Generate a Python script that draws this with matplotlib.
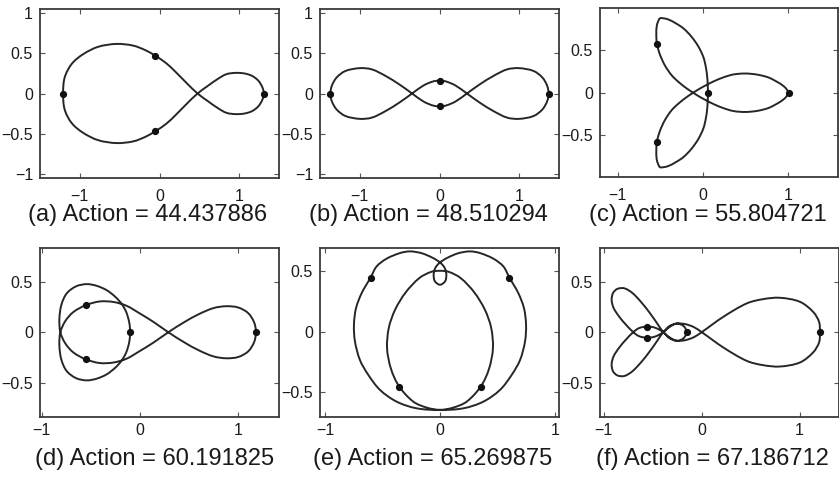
import numpy as np
import matplotlib
matplotlib.use("Agg")
import matplotlib.pyplot as plt
from matplotlib.path import Path
from matplotlib.patches import PathPatch

plt.rcParams["font.family"] = ["Liberation Sans", "DejaVu Sans"]

# ---------------------------------------------------------------------------
# Orbit data (half curves; the full orbits follow from their symmetries)
# ---------------------------------------------------------------------------
# (a) symmetric about the x-axis
a_half_x = [1.31, 1.29, 1.24, 1.16, 1.06, 0.95, 0.84, 0.73, 0.60, 0.478, 0.34, 0.20,
            0.08, -0.055, -0.17, -0.33, -0.54, -0.77, -0.956, -1.10, -1.19, -1.21]
a_half_y = [0.0, 0.08, 0.16, 0.22, 0.25, 0.256, 0.24, 0.18, 0.09, 0.0, -0.13, -0.27,
            -0.38, -0.47, -0.535, -0.595, -0.616, -0.58, -0.49, -0.37, -0.20, 0.0]
a_bodies_x = [-1.21, 1.31, -0.055, -0.055]
a_bodies_y = [0.0, 0.0, 0.47, -0.47]

# (b) symmetric about the x-axis
b_half_x = [-1.37, -1.35, -1.29, -1.18, -1.0, -0.85, -0.68, -0.5, -0.344, -0.2, -0.08, 0.0,
            0.08, 0.2, 0.344, 0.5, 0.68, 0.85, 1.0, 1.18, 1.29, 1.35, 1.37]
b_half_y = [0.0, 0.1, 0.2, 0.28, 0.315, 0.3, 0.22, 0.11, 0.0, -0.1, -0.15, -0.16,
            -0.15, -0.1, 0.0, 0.11, 0.22, 0.3, 0.315, 0.28, 0.2, 0.1, 0.0]
b_bodies_x = [-1.37, 1.37, 0.0, 0.0]
b_bodies_y = [0.0, 0.0, 0.16, -0.16]

# (c) three-fold symmetric; arc from the right tip to the centre of one strand
c_arc_x = [1.01, 0.99, 0.95, 0.87, 0.77, 0.64, 0.5, 0.36, 0.24, 0.13, 0.05, -0.03]
c_arc_y = [0.0, 0.035, 0.078, 0.13, 0.18, 0.213, 0.226, 0.215, 0.18, 0.135, 0.095, 0.052]
c_bodies_x = [1.01, 0.06, -0.541, -0.541]
c_bodies_y = [0.0, 0.0, 0.577, -0.577]

# (d) symmetric about the x-axis
d_half_x = [1.18, 1.16, 1.10, 1.00, 0.88, 0.75, 0.60, 0.45, 0.288, 0.136, 0.0, -0.136,
            -0.27, -0.41, -0.552, -0.678, -0.76, -0.81, -0.82, -0.80, -0.746, -0.65,
            -0.542, -0.44, -0.339, -0.25, -0.186, -0.14, -0.11, -0.10]
d_half_y = [0.0, 0.10, 0.19, 0.245, 0.258, 0.24, 0.18, 0.10, 0.0, -0.103, -0.185, -0.262,
            -0.30, -0.305, -0.268, -0.20, -0.11, 0.0, 0.13, 0.27, 0.384, 0.455,
            0.477, 0.46, 0.417, 0.35, 0.28, 0.20, 0.10, 0.0]
d_bodies_x = [1.18, -0.10, -0.552, -0.552]
d_bodies_y = [0.0, 0.0, 0.268, -0.268]

# (e) symmetric about the y-axis
e_half_x = [0.0, -0.045, -0.055, -0.04, 0.0, 0.07, 0.16, 0.26, 0.348, 0.464, 0.551, 0.603,
            0.681, 0.73, 0.748, 0.739, 0.696, 0.623, 0.522, 0.377, 0.203, 0.0, -0.116,
            -0.232, -0.354, -0.425, -0.46, -0.445, -0.39, -0.30, -0.18, -0.075, 0.0]
e_half_y = [0.385, 0.415, 0.47, 0.525, 0.569, 0.61, 0.645, 0.66, 0.646, 0.60, 0.536, 0.445,
            0.316, 0.192, 0.055, -0.082, -0.234, -0.357, -0.48, -0.577, -0.632, -0.645, -0.626,
            -0.577, -0.453, -0.31, -0.14, 0.03, 0.18, 0.32, 0.44, 0.492, 0.50]
e_bodies_x = [-0.603, 0.603, -0.354, 0.354]
e_bodies_y = [0.445, 0.445, -0.453, -0.453]

# (f) symmetric about the x-axis
f_half_x = [1.208, 1.20, 1.14, 1.004, 0.80, 0.63, 0.46, 0.221, 0.0, -0.08, -0.17, -0.26,
            -0.33, -0.392, -0.45, -0.53, -0.62, -0.71, -0.79, -0.86, -0.905, -0.92, -0.90,
            -0.84, -0.77, -0.699, -0.64, -0.562, -0.48, -0.392, -0.33, -0.25, -0.185, -0.153]
f_half_y = [0.0, 0.10, 0.20, 0.301, 0.341, 0.328, 0.285, 0.152, 0.0, -0.05, -0.08, -0.085,
            -0.05, 0.0, 0.08, 0.19, 0.30, 0.39, 0.435, 0.43, 0.39, 0.32, 0.24,
            0.15, 0.07, 0.0, -0.04, -0.055, -0.045, 0.0, 0.06, 0.085, 0.06, 0.0]
f_bodies_x = [1.208, -0.153, -0.562, -0.562]
f_bodies_y = [0.0, 0.0, 0.055, -0.055]

captions = ["(a) Action = 44.437886", "(b) Action = 48.510294", "(c) Action = 55.804721",
            "(d) Action = 60.191825", "(e) Action = 65.269875", "(f) Action = 67.186712"]


# ---------------------------------------------------------------------------
# Curve construction helpers
# ---------------------------------------------------------------------------
def join_mirror(hx, hy, flip_x=False):
    """Half curve followed by its mirror image traversed backwards."""
    hx = np.asarray(hx, float)
    hy = np.asarray(hy, float)
    mx, my = (-hx, hy) if flip_x else (hx, -hy)
    x = np.concatenate([hx, mx[::-1][1:-1]])
    y = np.concatenate([hy, my[::-1][1:-1]])
    return x, y


def rotate(x, y, deg):
    t = np.deg2rad(deg)
    return x * np.cos(t) - y * np.sin(t), x * np.sin(t) + y * np.cos(t)


def threefold(ax_, ay_):
    ax_ = np.asarray(ax_, float)
    ay_ = np.asarray(ay_, float)
    # reflect the arc across the line through the origin at 120 degrees
    c, s = np.cos(np.deg2rad(240)), np.sin(np.deg2rad(240))
    rx = c * ax_ + s * ay_
    ry = s * ax_ - c * ay_
    sx = np.concatenate([ax_, rx[::-1][1:]])
    sy = np.concatenate([ay_, ry[::-1][1:]])
    parts_x, parts_y = [sx[:-1]], [sy[:-1]]
    for deg in (240, 120):
        px, py = rotate(sx, sy, deg)
        parts_x.append(px[:-1])
        parts_y.append(py[:-1])
    return np.concatenate(parts_x), np.concatenate(parts_y)


def smooth_closed_path(x, y):
    P = np.column_stack([x, y])
    n = len(P)
    nxt = np.roll(P, -1, axis=0)
    prv = np.roll(P, 1, axis=0)
    d_next = np.linalg.norm(nxt - P, axis=1)
    d_prev = np.roll(d_next, 1)
    T = (nxt - prv) / (d_prev + d_next)[:, None]
    verts = [P[0]]
    codes = [Path.MOVETO]
    for i in range(n):
        j = (i + 1) % n
        h = d_next[i] / 3.0
        verts += [P[i] + T[i] * h, P[j] - T[j] * h, P[j]]
        codes += [Path.CURVE4] * 3
    return Path(verts, codes)


orbits = [
    join_mirror(a_half_x, a_half_y),
    join_mirror(b_half_x, b_half_y),
    threefold(c_arc_x, c_arc_y),
    join_mirror(d_half_x, d_half_y),
    join_mirror(e_half_x, e_half_y, flip_x=True),
    join_mirror(f_half_x, f_half_y),
]
bodies = [(a_bodies_x, a_bodies_y), (b_bodies_x, b_bodies_y), (c_bodies_x, c_bodies_y),
          (d_bodies_x, d_bodies_y), (e_bodies_x, e_bodies_y), (f_bodies_x, f_bodies_y)]

# axes boxes in pixels: left, top, right, bottom
W, H = 839, 479
boxes = [(40, 9, 279, 178), (320, 9, 559, 178), (600, 8.5, 838, 177),
         (40, 247.5, 279, 417), (320, 247.5, 559.3, 417.3), (600, 247.5, 838.7, 417.3)]
xlims = [(-1.5, 1.5), (-1.5, 1.5), (-1.21, 1.59), (-1.017, 1.414), (-1.043, 1.037), (-1.039, 1.40)]
ylims = [(-1.05, 1.05), (-1.05, 1.05), (-0.99, 0.99), (-0.84, 0.84), (-0.706, 0.692), (-0.845, 0.84)]
yticks = [[-1, -0.5, 0, 0.5, 1], [-1, -0.5, 0, 0.5, 1], [-0.5, 0, 0.5],
          [-0.5, 0, 0.5], [-0.5, 0, 0.5], [-0.5, 0, 0.5]]
xticks = [-1, 0, 1]
xlabel_pad = [8, 8, 8, 4, 4, 4]
caption_xy = [(148, 215), (428, 215), (708, 215), (155, 459), (433, 459), (712, 459)]


def fmt(v):
    return ("%g" % v).replace("-", "\u2212")


fig = plt.figure(figsize=(W / 100, H / 100), dpi=100)
line_color = "#262626"
for k in range(6):
    l, t, r, b = boxes[k]
    ax = fig.add_axes([l / W, 1 - b / H, (r - l) / W, (b - t) / H])
    x, y = orbits[k]
    ax.add_patch(PathPatch(smooth_closed_path(x, y), facecolor="none",
                           edgecolor=line_color, lw=1.4, joinstyle="round"))
    bx, by = bodies[k]
    ax.plot(bx, by, "o", color="#111111", ms=4.2, zorder=3)
    ax.set_xlim(*xlims[k])
    ax.set_ylim(*ylims[k])
    ax.set_xticks(xticks)
    ax.set_xticklabels([fmt(v) for v in xticks])
    ax.set_yticks(yticks[k])
    ax.set_yticklabels([fmt(v) for v in yticks[k]])
    ax.tick_params(direction="in", top=True, right=True, length=3.5, width=0.8,
                   color="#555555", labelsize=11.5, pad=5, labelcolor="#1a1a1a")
    ax.tick_params(axis="x", pad=xlabel_pad[k])
    for sp in ax.spines.values():
        sp.set_linewidth(1.3)
        sp.set_color("#3a3a3a")
    cx, cy = caption_xy[k]
    fig.text(cx / W, 1 - cy / H, captions[k], ha="center", va="center",
             fontsize=17, color="#1a1a1a")

fig.savefig("out.png", dpi=100)
